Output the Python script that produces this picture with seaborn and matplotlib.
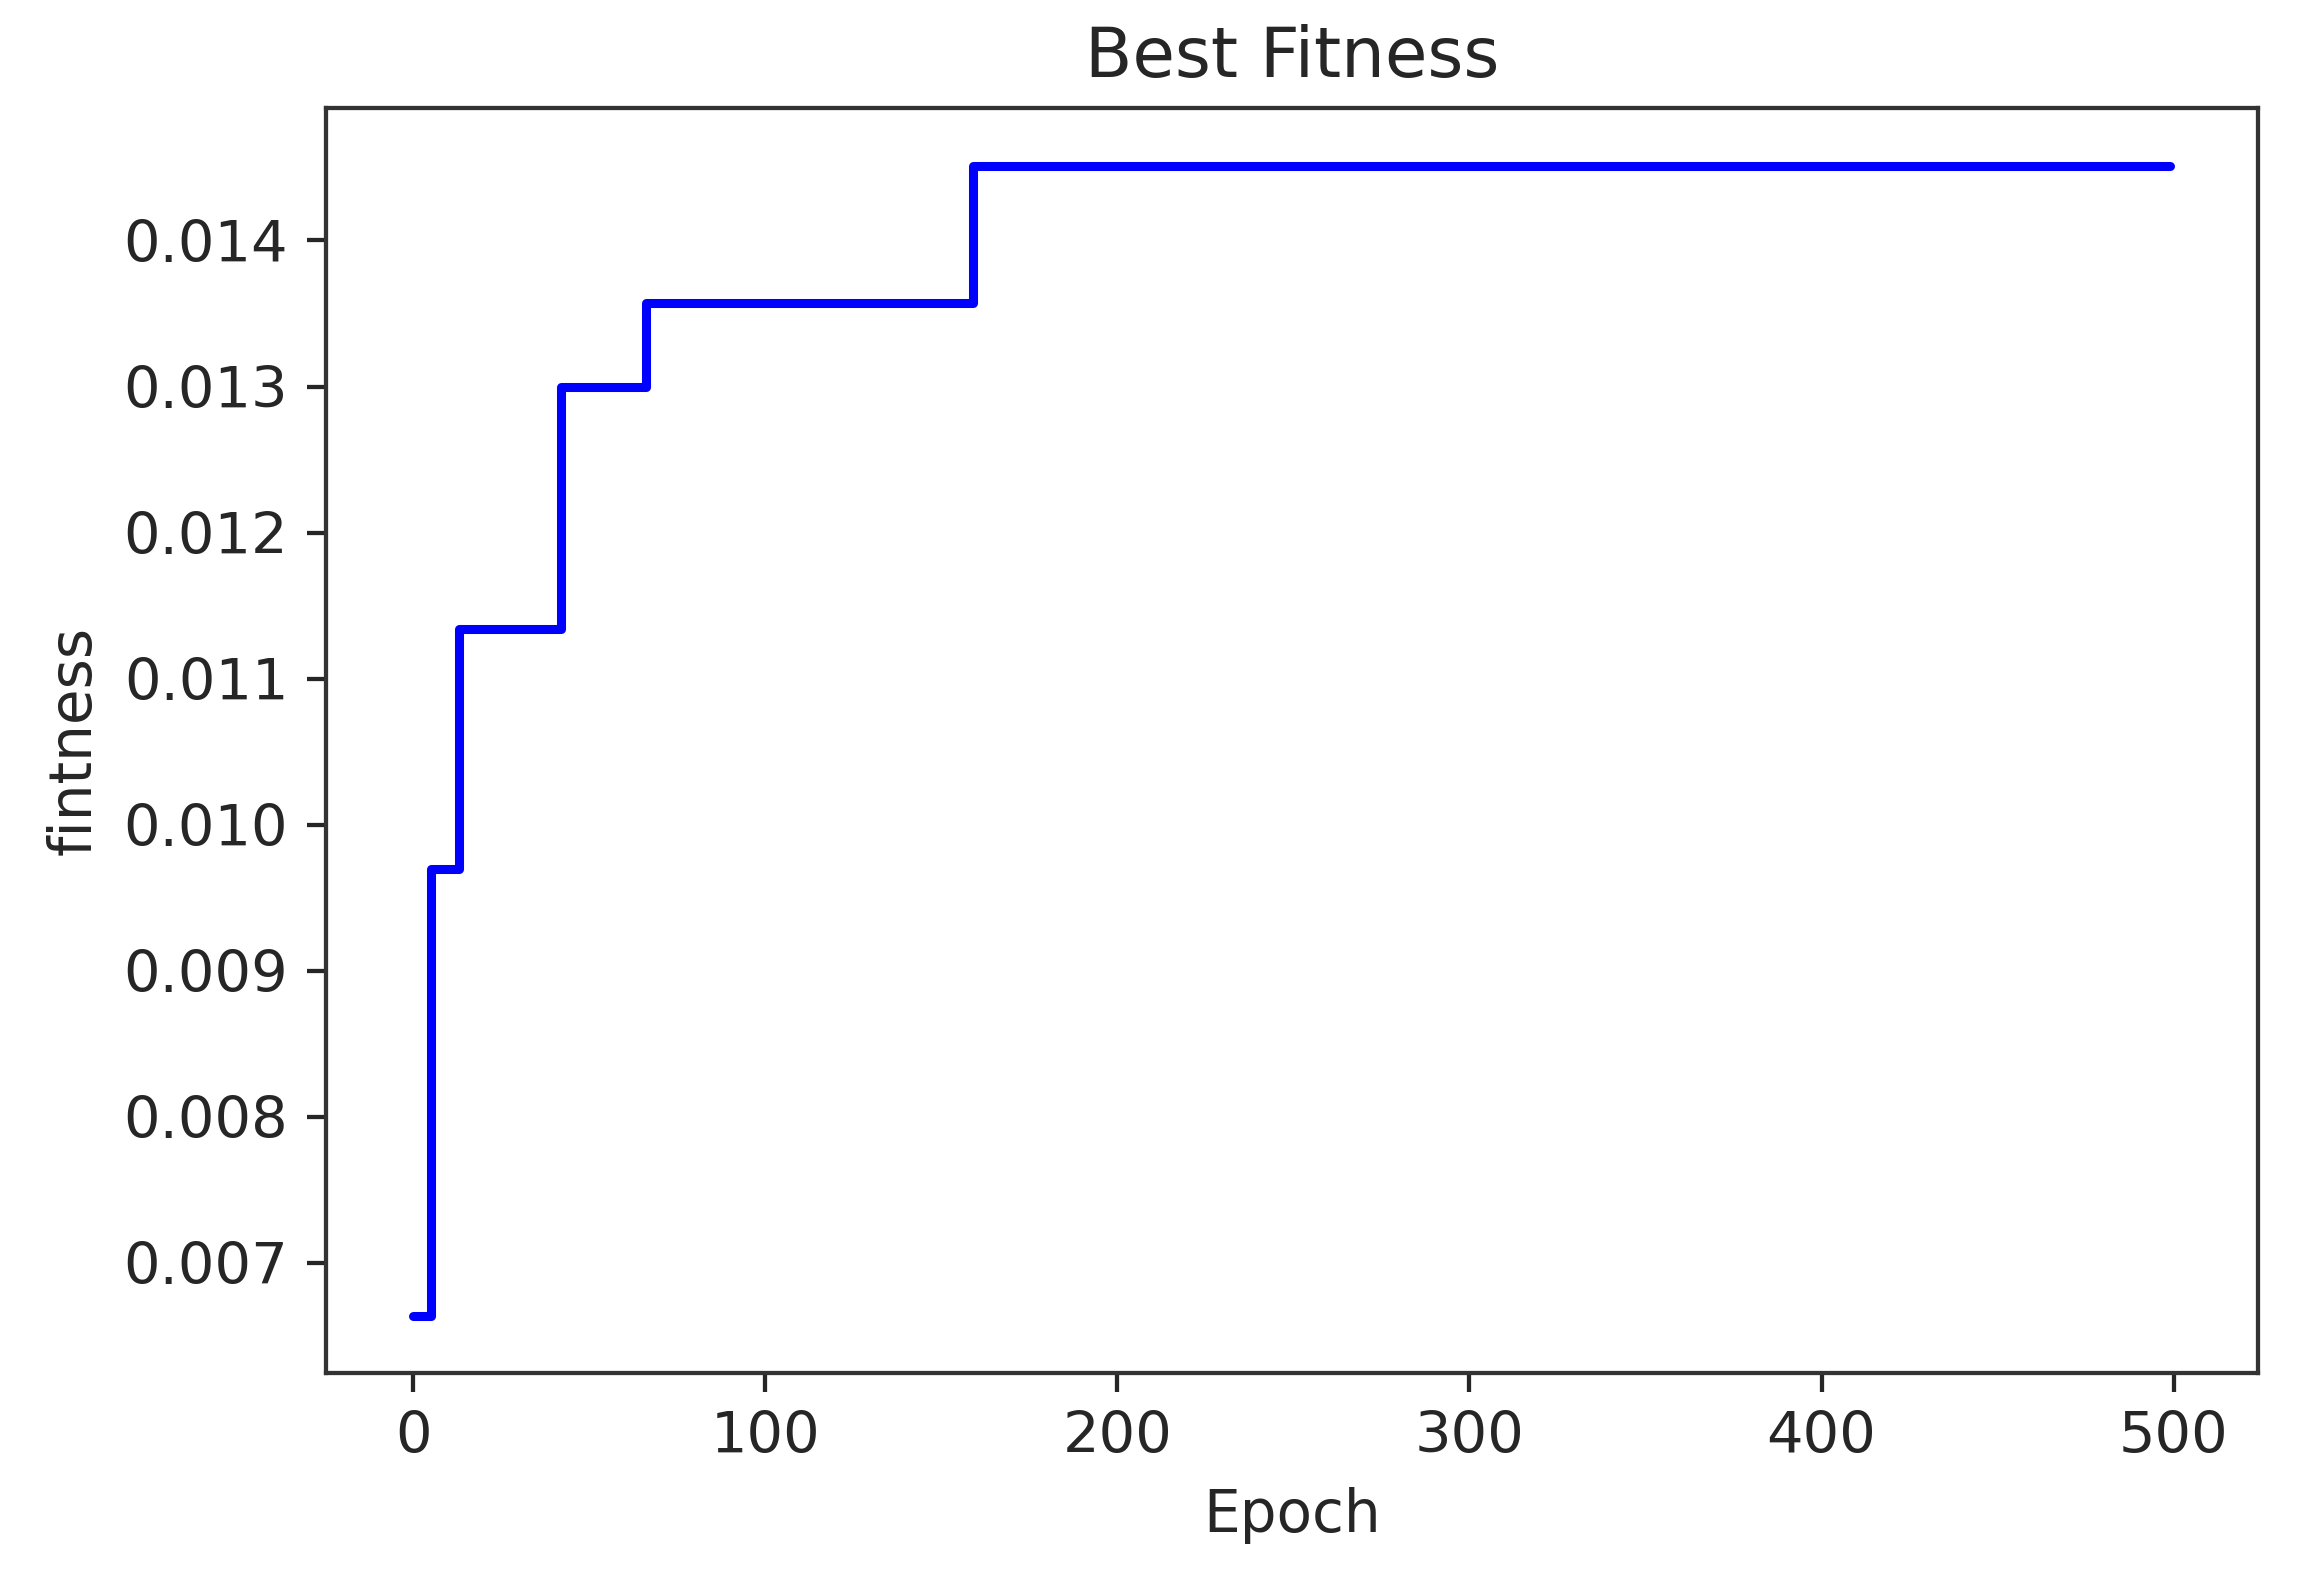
import pandas as pd
import matplotlib
matplotlib.use("Agg")
import matplotlib.pyplot as plt
import seaborn as sns

# step points of the best-fitness curve (epoch where the value changes)
epochs = [0, 5, 13, 42, 66, 159, 499]
fitness = [0.00664, 0.00970, 0.01134, 0.01300, 0.01357, 0.01451, 0.01451]

df = pd.DataFrame({"Epoch": epochs, "fitness": fitness})

sns.set_style("ticks")
plt.rcParams["font.family"] = ["DejaVu Sans"]

dpi = 2299 / 6
fig, ax = plt.subplots(figsize=(6, 1593 / dpi), dpi=dpi)
fig.subplots_adjust(left=0.1416, right=0.9821, top=0.9319, bottom=0.1381)

sns.lineplot(data=df, x="Epoch", y="fitness", color="blue", linewidth=1.7,
             drawstyle="steps-post", ax=ax)

ax.set_title("Best Fitness", fontsize=13)
ax.set_xlabel("Epoch", fontsize=10.9)
ax.set_ylabel("fintness", fontsize=10.9)
ax.set_xticks([0, 100, 200, 300, 400, 500])
ax.set_yticks([0.007, 0.008, 0.009, 0.010, 0.011, 0.012, 0.013, 0.014])
ax.set_yticklabels([f"{v:.3f}" for v in ax.get_yticks()])
ax.tick_params(labelsize=10.8)
for s in ax.spines.values():
    s.set_color("#333333")

fig.savefig("out.png", dpi=dpi)
